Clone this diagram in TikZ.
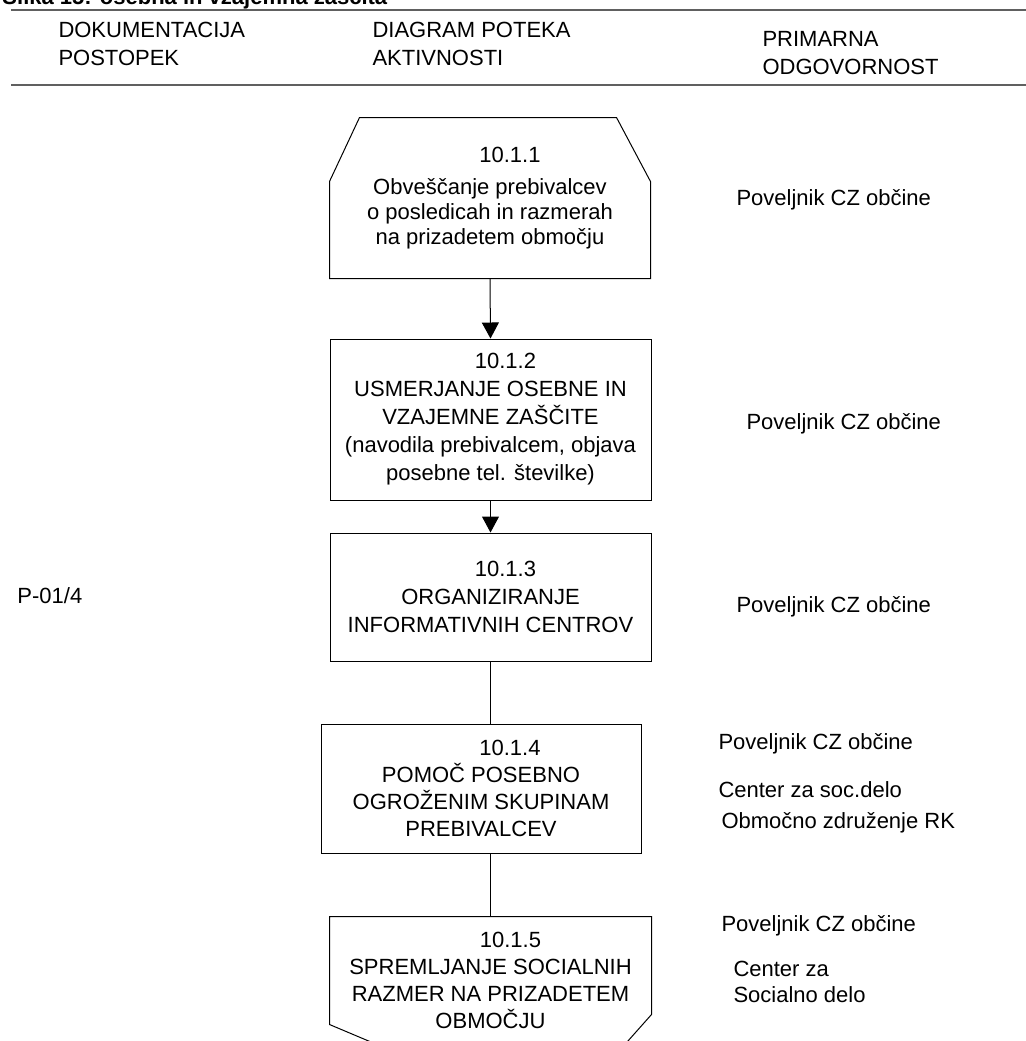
\documentclass[tikz,border=0pt]{standalone}
\usepackage{fontspec}
\setmainfont{Liberation Sans}
\usetikzlibrary{arrows.meta,calc}
\tikzset{
  txt/.style={font=\fontsize{11pt}{13.5pt}\selectfont},
  stepbox/.style={txt, inner sep=0pt, align=center},
  resp/.style={txt, anchor=base west, inner sep=0pt},
  head/.style={anchor=base west, inner sep=0pt, align=left, font=\fontsize{11pt}{14pt}\selectfont},
  rule/.style={gray!75!black, line width=1pt},
  flow/.style={-{Triangle[length=8pt,width=8.5pt]}},
}
\begin{document}
\begin{tikzpicture}[x=0.5pt,y=-0.5pt,line width=0.5pt] % ------ glava -----------------------------
    \clip (0,0) rectangle (1026,1041);
    \node[resp,font=\bfseries\fontsize{11pt}{13.5pt}\selectfont] (title) at (2,4.5) {Slika 15: osebna in vzajemna zaščita};
    \draw[rule] (11,10) -- (1026,10);
    \draw[rule] (11,85) -- (1026,85);
    \node[head] (hdok) at (58,65) {DOKUMENTACIJA\\POSTOPEK};
    \node[head] (hdia) at (372,65) {DIAGRAM POTEKA\\AKTIVNOSTI};
    \node[head] (hodg) at (762,74) {PRIMARNA\\ODGOVORNOST};
    % ------ aktivnosti -----------------------------
    \node[stepbox,minimum width=160pt,minimum height=80pt,font=\fontsize{11pt}{12.5pt}\selectfont] (b1) at (490,198)
      {\hspace*{20pt}10.1.1\\[3.5pt]Obveščanje prebivalcev\\o posledicah in razmerah\\na prizadetem območju};
    \draw (b1.south west) -- ($(b1.north west)+(0,64)$) -- ($(b1.north west)+(30,0)$)
      -- ($(b1.north east)+(-34,0)$) -- ($(b1.north east)+(0,64)$) -- (b1.south east) -- cycle;
    \node[stepbox,draw,minimum width=160.5pt,minimum height=80.5pt,font=\fontsize{11pt}{14pt}\selectfont] (b2) at (490.5,419.5)
      {\hspace*{15pt}10.1.2\\USMERJANJE OSEBNE IN\\VZAJEMNE ZAŠČITE\\(navodila prebivalcem, objava\\posebne tel. številke)};
    \node[stepbox,draw,minimum width=160.5pt,minimum height=64pt,font=\fontsize{11pt}{14pt}\selectfont] (b3) at (490.5,597)
      {\hspace*{15pt}10.1.3\\ORGANIZIRANJE\\INFORMATIVNIH CENTROV};
    \node[stepbox,draw,minimum width=160pt,minimum height=64.5pt] (b4) at (481,788.5)
      {\hspace*{29pt}10.1.4\\POMOČ POSEBNO\\OGROŽENIM SKUPINAM\\PREBIVALCEV};
    \node[stepbox,minimum width=160.5pt,minimum height=63pt] (b5) at (490.5,980)
      {\hspace*{20pt}10.1.5\\SPREMLJANJE SOCIALNIH\\RAZMER NA PRIZADETEM\\OBMOČJU};
    \draw ($(b5.north west)+(83,143)$) -- ($(b5.north west)+(0,108)$) -- (b5.north west)
      -- (b5.north east) -- ($(b5.north east)+(0,98)$) -- ++(-40,45);
    \draw[flow] (b1.south) -- (b2.north);
    \draw[flow] (b2.south) -- (b3.north);
    \draw (b3.south) -- (b3.south |- b4.north);
    \draw (b5.north |- b4.south) -- (b5.north);
    % ------ dokumentacija in odgovornost -----------------------------
    \node[resp] (pdok) at (17,603) {P-01/4};
    \node[resp] (r1) at (736,205) {Poveljnik CZ občine};
    \node[resp] (r2) at (746,429) {Poveljnik CZ občine};
    \node[resp] (r3) at (736,612) {Poveljnik CZ občine};
    \node[resp] (r4a) at (718,749) {Poveljnik CZ občine};
    \node[resp] (r4b) at (718,797) {Center za soc.delo};
    \node[resp] (r4c) at (721,828) {Območno združenje RK};
    \node[resp] (r5a) at (721,931) {Poveljnik CZ občine};
    \node[resp,align=left,font=\fontsize{11pt}{13pt}\selectfont] (r5b) at (733,1002) {Center za\\Socialno delo};
\end{tikzpicture}
\end{document}
